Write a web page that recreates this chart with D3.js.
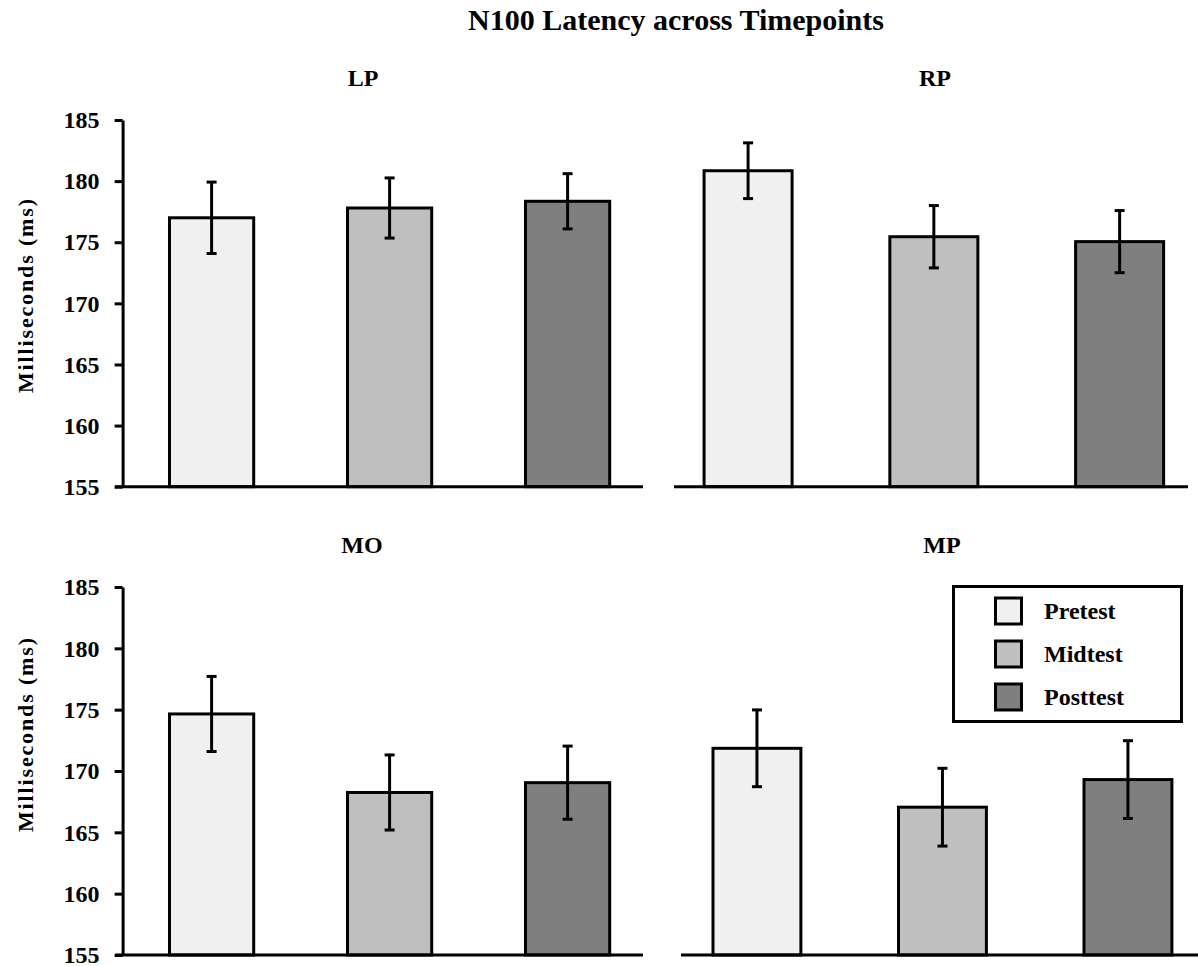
<!DOCTYPE html>
<html>
<head>
<meta charset="utf-8">
<script src="https://cdn.jsdelivr.net/npm/d3@7"></script>
<style>
  html, body { margin: 0; padding: 0; background: #ffffff; }
  svg { display: block; }
  text { font-family: "Liberation Serif", "Times New Roman", serif; font-weight: bold; fill: #000; }
</style>
</head>
<body>
<svg id="chart" width="1198" height="966"></svg>
<script>
// ---------------- data ----------------
const chartTitle = "N100 Latency across Timepoints";
const yAxisTitle = "Milliseconds (ms)";
const timepoints = ["Pretest", "Midtest", "Posttest"];
const timepointColors = ["#f0f0f0", "#bfbfbf", "#7f7f7f"];
const regions = ["LP", "RP", "MO", "MP"];
const yTicks = [155, 160, 165, 170, 175, 180, 185];
const yDomain = [155, 185];

const lpMeans = [177.0, 177.8, 178.35];
const lpErr   = [2.92, 2.46, 2.26];
const rpMeans = [180.85, 175.45, 175.05];
const rpErr   = [2.28, 2.55, 2.54];
const moMeans = [174.65, 168.25, 169.05];
const moErr   = [3.06, 3.06, 2.98];
const mpMeans = [171.85, 167.05, 169.3];
const mpErr   = [3.13, 3.17, 3.17];

// ---------------- layout ----------------
const svg = d3.select("#chart");
const serif = "'Liberation Serif', 'Times New Roman', serif";
const rowRanges = [[486.7, 120], [955, 587]];
const panels = [
  { name: regions[0], means: lpMeans, errs: lpErr, row: 0, band: [122.6, 656.6], base: [115, 643], axis: true,  tx: 363, ty: 86 },
  { name: regions[1], means: rpMeans, errs: rpErr, row: 0, band: [655.2, 1212.5], base: [674, 1188], axis: false, tx: 935, ty: 86 },
  { name: regions[2], means: moMeans, errs: moErr, row: 1, band: [122.6, 656.6], base: [115, 643], axis: true,  tx: 362, ty: 553 },
  { name: regions[3], means: mpMeans, errs: mpErr, row: 1, band: [664.2, 1220.7], base: [681, 1198], axis: false, tx: 942, ty: 553 }
];
const yTitleCenters = [296, 735];

// title
svg.append("text")
  .attr("x", 676).attr("y", 30)
  .attr("text-anchor", "middle")
  .style("font-family", serif)
  .style("font-size", "30px")
  .text(chartTitle);

panels.forEach(p => {
  const y = d3.scaleLinear().domain(yDomain).range(rowRanges[p.row]);
  const x = d3.scaleBand().domain(timepoints).range(p.band).paddingInner(0.51).paddingOuter(0.255);
  const g = svg.append("g");

  // panel title
  g.append("text")
    .attr("x", p.tx).attr("y", p.ty)
    .attr("text-anchor", "middle")
    .style("font-family", serif)
    .style("font-size", "24px")
    .text(p.name);

  // bars
  const sw = 3;
  g.selectAll("rect.bar").data(timepoints).enter().append("rect")
    .attr("class", "bar")
    .attr("x", d => x(d) + sw / 2)
    .attr("width", x.bandwidth() - sw)
    .attr("y", (d, i) => y(p.means[i]))
    .attr("height", (d, i) => y(yDomain[0]) - y(p.means[i]))
    .attr("fill", (d, i) => timepointColors[i])
    .attr("stroke", "#000")
    .attr("stroke-width", sw);

  // error bars
  const eb = g.selectAll("g.err").data(timepoints).enter().append("g").attr("class", "err");
  const cx = d => x(d) + x.bandwidth() / 2;
  eb.append("line")
    .attr("x1", cx).attr("x2", cx)
    .attr("y1", (d, i) => y(p.means[i] + p.errs[i]))
    .attr("y2", (d, i) => y(p.means[i] - p.errs[i]))
    .attr("stroke", "#000").attr("stroke-width", 3);
  [1, -1].forEach(s => {
    eb.append("line")
      .attr("x1", d => cx(d) - 5).attr("x2", d => cx(d) + 5)
      .attr("y1", (d, i) => y(p.means[i] + s * p.errs[i]))
      .attr("y2", (d, i) => y(p.means[i] + s * p.errs[i]))
      .attr("stroke", "#000").attr("stroke-width", 3);
  });

  // baseline
  g.append("line")
    .attr("x1", p.base[0]).attr("x2", p.base[1])
    .attr("y1", y(yDomain[0])).attr("y2", y(yDomain[0]))
    .attr("stroke", "#000").attr("stroke-width", 3);

  // y axis
  if (p.axis) {
    const ax = g.append("g")
      .attr("transform", `translate(${p.band[0]},0)`)
      .call(d3.axisLeft(y).tickValues(yTicks).tickSize(8).tickSizeOuter(0).tickPadding(15).tickFormat(d3.format("d")));
    ax.attr("font-family", null).attr("font-size", null);
    ax.select(".domain").attr("stroke", "#000").attr("stroke-width", 3);
    ax.selectAll(".tick line").attr("stroke", "#000").attr("stroke-width", 3);
    ax.selectAll(".tick text")
      .style("font-size", "24px")
      .style("font-family", serif)
      .style("font-weight", "bold")
      .attr("fill", "#000");

    g.append("text")
      .attr("transform", `translate(33,${yTitleCenters[p.row]}) rotate(-90)`)
      .attr("text-anchor", "middle")
      .attr("textLength", 194)
      .attr("lengthAdjust", "spacing")
      .style("font-family", serif)
      .style("font-size", "22px")
      .text(yAxisTitle);
  }
});

// legend
const lg = svg.append("g");
lg.append("rect")
  .attr("x", 953.5).attr("y", 586.5).attr("width", 228).attr("height", 135)
  .attr("fill", "#fff").attr("stroke", "#000").attr("stroke-width", 3);
const ly = d3.scalePoint().domain(timepoints).range([611, 697]);
const items = lg.selectAll("g.item").data(timepoints).enter().append("g").attr("class", "item");
items.append("rect")
  .attr("x", 995.5).attr("y", d => ly(d) - 13)
  .attr("width", 26).attr("height", 26)
  .attr("fill", (d, i) => timepointColors[i])
  .attr("stroke", "#000").attr("stroke-width", 3);
items.append("text")
  .attr("x", 1044).attr("y", d => ly(d) + 8)
  .style("font-family", serif)
  .style("font-size", "24px")
  .text(d => d);
</script>
</body>
</html>
